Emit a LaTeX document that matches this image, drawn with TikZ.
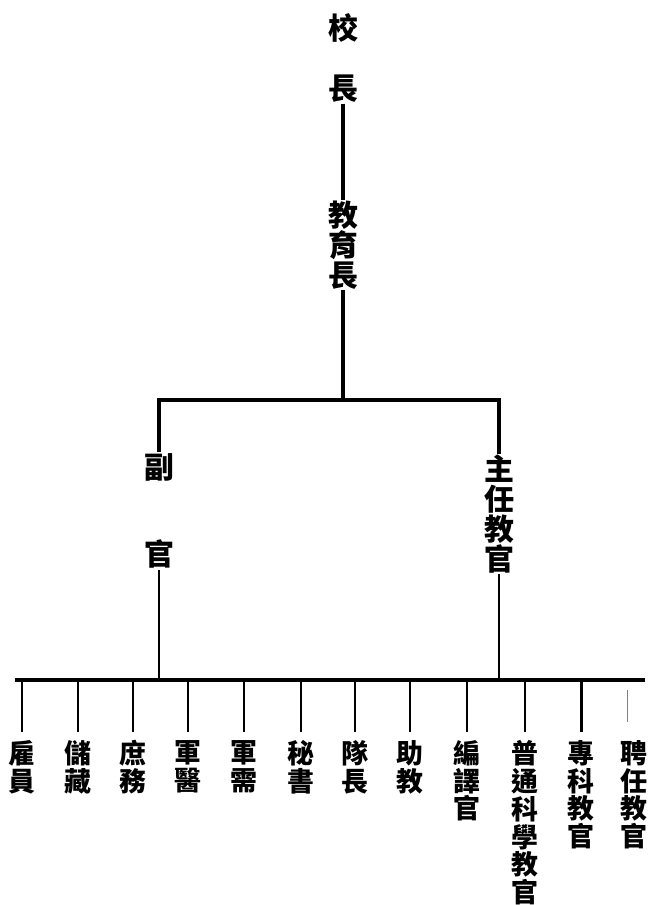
\documentclass[tikz,border=0pt]{standalone}
\usepackage{fontspec}
\newfontfamily\cjk{Noto Sans CJK TC}
\begin{document}
\begin{tikzpicture}[x=1bp,y=-1bp,
  big/.style={align=center,inner sep=1pt,font=\cjk\bfseries\fontsize{30}{30}\selectfont},
  small/.style={align=center,inner sep=2pt,anchor=north,font=\cjk\bfseries\fontsize{27}{28}\selectfont}]
\useasboundingbox (0,0) rectangle (654,905);

\node[big] (a) at (343,58) {校\\[30pt]長};
\node[big] (b) at (343,245) {教\\育\\長};
\path[draw,line width=3.2pt,-] (a) -- (b);

\coordinate (m) at (343,400);
\node[big] (c) at (159,511) {副\\[58pt]官};
\node[big] (d) at (499,514) {主\\任\\教\\官};
\path[draw,line width=3.2pt,-] (b) -- (m);
\path[draw,line width=3.2pt,-] (c.north) |- (m) -| (d.north);

\coordinate (l) at (15,680);
\coordinate (r) at (645,680);
\path[draw,line width=3.2pt,-] (l) -- (r);
\path[draw,line width=2.6pt,-] (c.south) -- (c.south |- l);
\path[draw,line width=2.6pt,-] (d.south) -- (d.south |- l);

\node[small] (e1) at (22,738) {雇\\員};
\path[draw,line width=1.8pt,-,shorten >=6pt] (e1.north |- l) -- (e1.north);
\node[small] (e2) at (78,738) {儲\\藏};
\path[draw,line width=2.6pt,-,shorten >=6pt] (e2.north |- l) -- (e2.north);
\node[small] (e3) at (133,738) {庶\\務};
\path[draw,line width=2.2pt,-,shorten >=6pt] (e3.north |- l) -- (e3.north);
\node[small] (e4) at (188,738) {軍\\醫};
\path[draw,line width=2.6pt,-,shorten >=6pt] (e4.north |- l) -- (e4.north);
\node[small] (e5) at (244,738) {軍\\需};
\path[draw,line width=2.6pt,-,shorten >=6pt] (e5.north |- l) -- (e5.north);
\node[small] (e6) at (301,738) {秘\\書};
\path[draw,line width=2.6pt,-,shorten >=6pt] (e6.north |- l) -- (e6.north);
\node[small] (e7) at (355,738) {隊\\長};
\path[draw,line width=2.6pt,-,shorten >=6pt] (e7.north |- l) -- (e7.north);
\node[small] (e8) at (410,738) {助\\教};
\path[draw,line width=2.6pt,-,shorten >=6pt] (e8.north |- l) -- (e8.north);
\node[small] (e9) at (467,738) {編\\譯\\官};
\path[draw,line width=2.2pt,-,shorten >=6pt] (e9.north |- l) -- (e9.north);
\node[small] (e10) at (525,738) {普\\通\\科\\學\\教\\官};
\path[draw,line width=2.6pt,-,shorten >=6pt] (e10.north |- l) -- (e10.north);
\node[small] (e11) at (581,738) {專\\科\\教\\官};
\path[draw,line width=3pt,-,shorten >=6pt] (e11.north |- l) -- (e11.north);
\node[small] (e12) at (634,738) {聘\\任\\教\\官};
\coordinate (f) at (627,690);
\coordinate (g) at (627,722);
\path[draw,line width=0.8pt,gray,-] (f) -- (g);
\end{tikzpicture}
\end{document}
